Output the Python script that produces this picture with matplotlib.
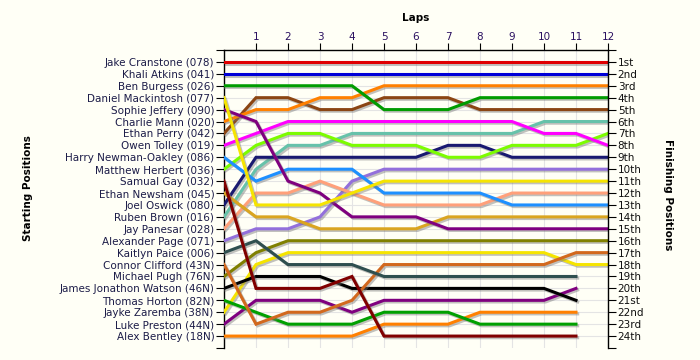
import numpy as np
import matplotlib
matplotlib.use('Agg')
import matplotlib.pyplot as plt
import matplotlib.patheffects as pe

laps = list(range(13))

drivers = ['Jake Cranstone (078)', 'Khali Atkins (041)', 'Ben Burgess (026)',
           'Daniel Mackintosh (077)', 'Sophie Jeffery (090)', 'Charlie Mann (020)',
           'Ethan Perry (042)', 'Owen Tolley (019)', 'Harry Newman-Oakley (086)',
           'Matthew Herbert (036)', 'Samual Gay (032)', 'Ethan Newsham (045)',
           'Joel Oswick (080)', 'Ruben Brown (016)', 'Jay Panesar (028)',
           'Alexander Page (071)', 'Kaitlyn Paice (006)', 'Connor Clifford (43N)',
           'Michael Pugh (76N)', 'James Jonathon Watson (46N)', 'Thomas Horton (82N)',
           'Jayke Zaremba (38N)', 'Luke Preston (44N)', 'Alex Bentley (18N)']

colors = ['#e00000', '#0000d8', '#009c00', '#f5e400', '#7f007f', '#ff8000',
          '#8b4513', '#ff00ff', '#1e90ff', '#7cfc00', '#800000', '#daa520',
          '#191970', '#66c2aa', '#ffa07a', '#9370db', '#2f4f4f', '#d2691e',
          '#808000', '#000000', '#00a000', '#f5e400', '#7f007f', '#ff8000']

# position per lap 0..12 (None = retired / not classified at that lap)
N = None
positions = [
    [1, 1, 1, 1, 1, 1, 1, 1, 1, 1, 1, 1, 1],
    [2, 2, 2, 2, 2, 2, 2, 2, 2, 2, 2, 2, 2],
    [3, 3, 3, 3, 3, 5, 5, 5, 4, 4, 4, 4, 4],
    [4, 13, 13, 13, 12, 11, 11, 11, 11, 11, 11, 11, 11],
    [5, 6, 11, 12, 14, 14, 14, 15, 15, 15, 15, 15, 15],
    [6, 5, 5, 4, 4, 3, 3, 3, 3, 3, 3, 3, 3],
    [7, 4, 4, 5, 5, 4, 4, 4, 5, 5, 5, 5, 5],
    [8, 7, 6, 6, 6, 6, 6, 6, 6, 6, 7, 7, 8],
    [9, 11, 10, 10, 10, 12, 12, 12, 12, 13, 13, 13, 13],
    [10, 8, 7, 7, 8, 8, 8, 9, 9, 8, 8, 8, 7],
    [11, 20, 20, 20, 19, 24, 24, 24, 24, 24, 24, 24, N],
    [12, 14, 14, 15, 15, 15, 15, 14, 14, 14, 14, 14, 14],
    [13, 9, 9, 9, 9, 9, 9, 8, 8, 9, 9, 9, 9],
    [14, 10, 8, 8, 7, 7, 7, 7, 7, 7, 6, 6, 6],
    [15, 12, 12, 11, 12, 13, 13, 13, 13, 12, 12, 12, 12],
    [16, 15, 15, 14, 11, 10, 10, 10, 10, 10, 10, 10, 10],
    [17, 16, 18, 18, 18, 19, 19, 19, 19, 19, 19, 19, N],
    [18, 23, 22, 22, 21, 18, 18, 18, 18, 18, 18, 17, 17],
    [19, 17, 16, 16, 16, 16, 16, 16, 16, 16, 16, 16, 16],
    [20, 19, 19, 19, 20, 20, 20, 20, 20, 20, 20, 21, N],
    [21, 22, 23, 23, 23, 22, 22, 22, 23, 23, 23, 23, N],
    [22, 18, 17, 17, 17, 17, 17, 17, 17, 17, 17, 18, 18],
    [23, 21, 21, 21, 22, 21, 21, 21, 21, 21, 21, 20, N],
    [24, 24, 24, 24, 24, 23, 23, 23, 22, 22, 22, 22, N],
]

finish_labels = ['1st', '2nd', '3rd'] + ['%dth' % i for i in range(4, 21)] + ['21st', '22nd', '23rd', '24th']

bg = '#fffff6'
txt = '#1c1c48'

fig = plt.figure(figsize=(7, 3.6), dpi=100, facecolor=bg)
ax = fig.add_axes([224/700, 1-348/360, 384/700, 298/360])
ax.set_facecolor(bg)

rows = np.arange(1, 25)
for r in rows:
    ax.axhline(r, color='#e4e4e4', lw=0.8, zorder=0)
for l in laps:
    ax.axvline(l, color='#e4e4e4', lw=0.8, zorder=0)

shadow = [pe.SimpleLineShadow(offset=(1.2, -1.2), shadow_color='#777777', alpha=0.45), pe.Normal()]
for i in range(len(drivers)):
    y = np.array([np.nan if p is None else p for p in positions[i]], dtype=float)
    ax.plot(laps, y, color=colors[i], lw=2.2, solid_joinstyle='miter',
            path_effects=shadow, zorder=3 + (24 - i) * 0.01)

ax.set_xlim(0, 12)
ax.set_ylim(25, 0)
ax.xaxis.tick_top()
ax.set_xticks(laps[1:])
ax.set_xticklabels([str(l) for l in laps[1:]])
ax.tick_params(axis='x', length=5, width=0.8, pad=1, labelsize=7.5, labelcolor='#2a1060')

ax.set_yticks([0] + list(rows) + [25])
ax.set_yticklabels([''] + drivers + [''])
ax.tick_params(axis='y', length=6, width=0.8, pad=1, labelsize=7.5, labelcolor=txt)

for s in ['bottom', 'right']:
    ax.spines[s].set_visible(False)
for s in ['top', 'left']:
    ax.spines[s].set_linewidth(1.0)

ax2 = ax.twinx()
ax2.set_ylim(25, 0)
ax2.set_yticks([0] + list(rows) + [25])
ax2.set_yticklabels([''] + finish_labels + [''])
ax2.tick_params(axis='y', length=6, width=0.8, pad=1, labelsize=7.5, labelcolor='#101010')
for s in ['bottom', 'left', 'top']:
    ax2.spines[s].set_visible(False)
ax2.spines['right'].set_linewidth(1.0)

fig.text(416/700, 1-18/360, 'Laps', ha='center', va='center', fontsize=7.5, fontweight='bold')
fig.text(28/700, 1-188/360, 'Starting Positions', ha='center', va='center', rotation=90,
         fontsize=7.5, fontweight='bold')
fig.text(668/700, 1-195/360, 'Finishing Positions', ha='center', va='center', rotation=-90,
         fontsize=7.5, fontweight='bold')

fig.savefig('out.png', dpi=100, facecolor=bg)
